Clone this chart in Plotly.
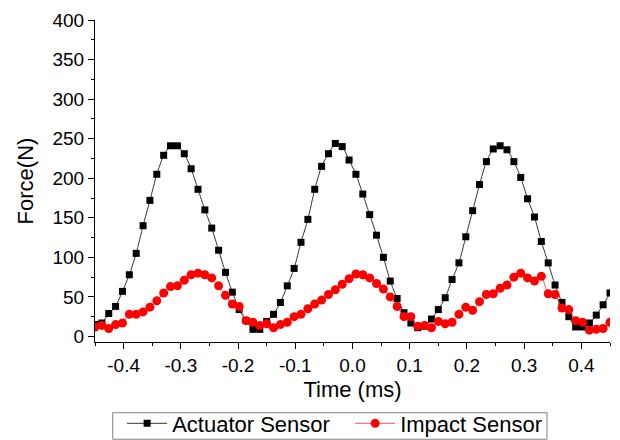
import plotly.graph_objects as go

time_ms = [-0.450, -0.438, -0.426, -0.414, -0.402, -0.390, -0.378, -0.366, -0.354, -0.342,
           -0.330, -0.318, -0.306, -0.294, -0.282, -0.270, -0.258, -0.246, -0.234, -0.222,
           -0.210, -0.198, -0.186, -0.174, -0.162, -0.150, -0.138, -0.126, -0.114, -0.102,
           -0.090, -0.078, -0.066, -0.054, -0.042, -0.030, -0.018, -0.006, 0.006, 0.018,
           0.030, 0.042, 0.054, 0.066, 0.078, 0.090, 0.102, 0.114, 0.126, 0.138,
           0.150, 0.162, 0.174, 0.186, 0.198, 0.210, 0.222, 0.234, 0.246, 0.258,
           0.270, 0.282, 0.294, 0.306, 0.318, 0.330, 0.342, 0.354, 0.366, 0.378,
           0.390, 0.402, 0.414, 0.426, 0.438, 0.450]

actuator = [15, 17, 29, 38, 57, 78, 105, 140, 172, 205,
            229, 241, 241, 231, 212, 186, 160, 137, 109, 81,
            56, 34, 20, 9, 9, 19, 28, 43, 64, 86,
            119, 148, 186, 215, 231, 244, 240, 223, 205, 180,
            154, 128, 100, 70, 48, 30, 17, 11, 13, 22,
            34, 49, 72, 93, 126, 159, 192, 221, 237, 241,
            236, 221, 201, 174, 151, 120, 93, 65, 43, 25,
            12, 12, 17, 27, 40, 55]

impact = [12, 14, 10, 15, 17, 28, 28, 31, 37, 45,
          55, 63, 64, 71, 78, 80, 78, 74, 64, 52,
          41, 38, 20, 18, 14, 16, 11, 15, 18, 25,
          28, 35, 41, 46, 53, 59, 66, 73, 79, 78,
          74, 67, 60, 50, 38, 25, 25, 13, 14, 11,
          19, 16, 18, 28, 37, 33, 44, 53, 54, 61,
          65, 75, 80, 74, 70, 76, 54, 53, 36, 34,
          20, 18, 8, 9, 10, 18]

x_tickvals = [-0.4, -0.3, -0.2, -0.1, 0.0, 0.1, 0.2, 0.3, 0.4]
x_ticktext = ["-0.4", "-0.3", "-0.2", "-0.1", "0.0", "0.1", "0.2", "0.3", "0.4"]
y_tickvals = [0, 50, 100, 150, 200, 250, 300, 350, 400]

FONT = "Arial, Liberation Sans, sans-serif"

fig = go.Figure()
fig.add_trace(go.Scatter(
    x=time_ms, y=actuator, name="Actuator Sensor", mode="lines+markers",
    line=dict(color="#333333", width=1, shape="spline", smoothing=0.6),
    marker=dict(symbol="square", size=7, color="black"),
))
fig.add_trace(go.Scatter(
    x=time_ms, y=impact, name="Impact Sensor", mode="lines+markers",
    line=dict(color="#ff5050", width=1, shape="spline", smoothing=0.6),
    marker=dict(symbol="circle", size=9, color="#ff0000"),
))

# legend frame (the legend itself is drawn borderless)
fig.add_shape(type="rect", xref="paper", yref="paper",
              x0=0.0344, x1=0.8776, y0=-0.302, y1=-0.2196,
              line=dict(color="#808080", width=1), fillcolor="rgba(0,0,0,0)")

fig.update_layout(
    width=620, height=440,
    margin=dict(l=95, r=10, t=20, b=98),
    paper_bgcolor="white", plot_bgcolor="white",
    font=dict(family=FONT, size=19, color="black"),
    showlegend=True,
    legend=dict(
        orientation="h", xref="container", yref="container",
        x=0.197, xanchor="left", y=0.0852, yanchor="top",
        borderwidth=0, bgcolor="rgba(0,0,0,0)", font=dict(size=22),
        itemwidth=40, tracegroupgap=0,
        entrywidth=173, entrywidthmode="pixels",
    ),
    xaxis=dict(
        range=[-0.45, 0.45], tickvals=x_tickvals, ticktext=x_ticktext,
        ticks="outside", ticklen=6, tickwidth=1, tickcolor="black",
        showline=True, linecolor="black", linewidth=1, showgrid=False, zeroline=False,
        minor=dict(ticks="outside", ticklen=3, dtick=0.05, tickcolor="black", showgrid=False),
        title=dict(text="Time (ms)", font=dict(size=22), standoff=6),
        tickfont=dict(size=19), automargin=False,
    ),
    yaxis=dict(
        range=[-7, 400], tickvals=y_tickvals,
        ticks="outside", ticklen=6, tickwidth=1, tickcolor="black",
        showline=True, linecolor="black", linewidth=1, showgrid=False, zeroline=False,
        minor=dict(ticks="outside", ticklen=3, dtick=25, tickcolor="black", showgrid=False),
        title=dict(text="Force(N)", font=dict(size=22), standoff=12),
        tickfont=dict(size=19), automargin=False,
    ),
)

fig.write_html("out.html", config={"displayModeBar": False},
               post_script="document.body.style.margin='0';")
